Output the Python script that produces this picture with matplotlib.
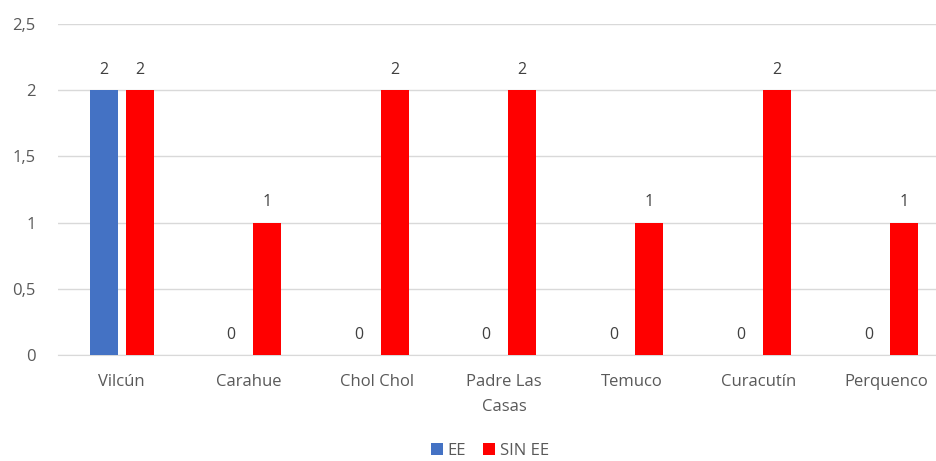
import matplotlib
matplotlib.use("Agg")
import matplotlib.pyplot as plt
import numpy as np

categories = ["Vilcún", "Carahue", "Chol Chol", "Padre Las\nCasas", "Temuco", "Curacutín", "Perquenco"]
ee = [2, 0, 0, 0, 0, 0, 0]
sin_ee = [2, 1, 2, 2, 1, 2, 1]
yticks = [0, 0.5, 1, 1.5, 2, 2.5]
ytick_labels = ["0", "0,5", "1", "1,5", "2", "2,5"]

plt.rcParams['font.family'] = ['Open Sans', 'DejaVu Sans']
text_color = "#595959"

fig = plt.figure(figsize=(9.37, 4.61), dpi=100)
ax = fig.add_axes([58/937, 106/461, 892/937, 331/461])

x = np.arange(len(categories))
w = 0.22
off = 0.141
b1 = ax.bar(x - off, ee, w, color="#4472C4", label="EE", zorder=3)
b2 = ax.bar(x + off, sin_ee, w, color="#FF0000", label="SIN EE", zorder=3)

for bars in (b1, b2):
    for r in bars:
        h = r.get_height()
        ax.annotate(f"{h:g}", (r.get_x() + r.get_width()/2, h), xytext=(0, 9),
                    textcoords="offset points", ha="center", va="bottom",
                    fontsize=11.5, color="#404040")

ax.set_xlim(-0.5, len(categories) - 0.5)
ax.set_ylim(0, 2.5)
ax.set_yticks(yticks)
ax.set_yticklabels(ytick_labels, fontsize=12, color=text_color)
ax.set_xticks(x)
ax.set_xticklabels(categories, fontsize=12, color=text_color, linespacing=1.75)
ax.yaxis.grid(True, color="#D9D9D9", linewidth=1, zorder=0)
ax.tick_params(axis="y", length=0, pad=16)
ax.tick_params(axis="x", length=0, pad=14)
for s in ["top", "right", "left"]:
    ax.spines[s].set_visible(False)
ax.spines["bottom"].set_color("#D9D9D9")

leg = fig.legend(handles=[b1, b2], labels=["EE", "SIN EE"], loc="center",
                 bbox_to_anchor=(490/937, 1 - 451/461), ncol=2, frameon=False,
                 fontsize=12, handlelength=0.7, handleheight=0.7, handletextpad=0.3,
                 columnspacing=1.0)
for t in leg.get_texts():
    t.set_color(text_color)

fig.savefig("out.png", dpi=100)
